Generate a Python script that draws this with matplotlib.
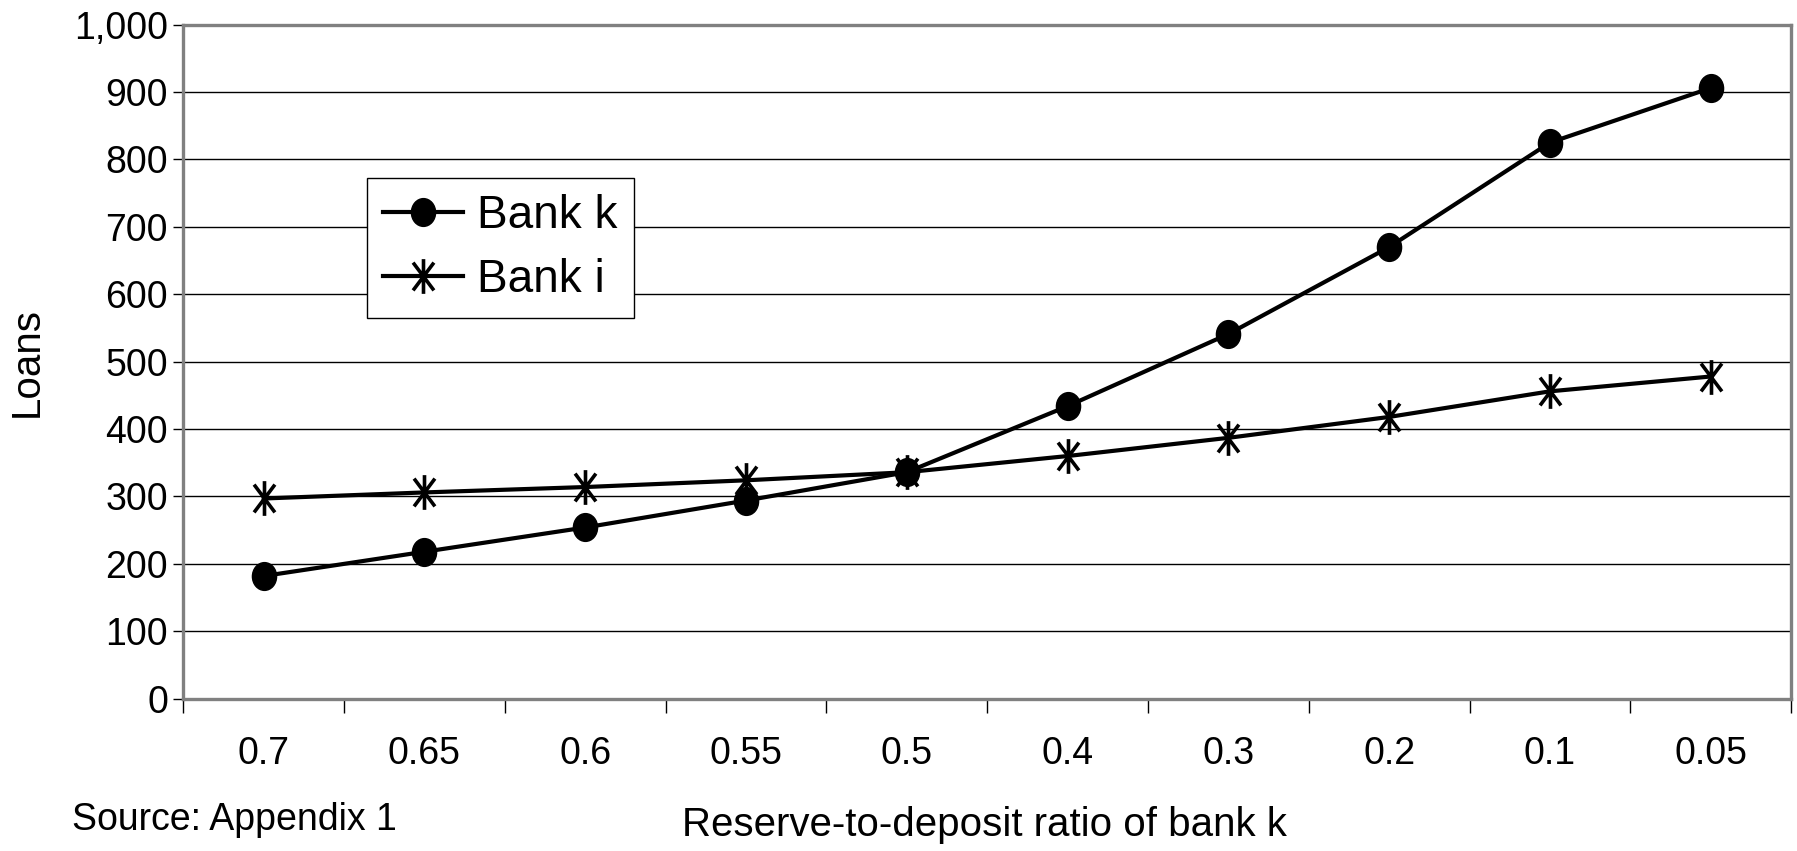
import matplotlib.pyplot as plt
from matplotlib.path import Path
from matplotlib.ticker import FuncFormatter, FixedLocator

plt.rcParams['font.family'] = ['Liberation Sans', 'DejaVu Sans']

# reserve-to-deposit ratio of bank k and resulting loan volumes
ratios = ['0.7', '0.65', '0.6', '0.55', '0.5', '0.4', '0.3', '0.2', '0.1', '0.05']
loans_k = [182, 218, 254, 294, 336, 434, 541, 670, 825, 906]
loans_i = [297, 306, 314, 324, 336, 360, 387, 418, 456, 478]

# six-armed asterisk, a bit taller than wide
star = Path([(0, -1), (0, 1), (-0.6, -0.8), (0.6, 0.8), (-0.6, 0.8), (0.6, -0.8)],
            [Path.MOVETO, Path.LINETO, Path.MOVETO, Path.LINETO, Path.MOVETO, Path.LINETO])
# slightly upright ellipse for the dots
circ = Path.unit_circle()
dot = Path(circ.vertices * [1.0, 1.15], circ.codes)

fig = plt.figure(figsize=(17.97, 8.51), dpi=100)
ax = fig.add_axes([0.102, 0.179, 0.8947, 0.792])

xs = [i + 0.5 for i in range(len(ratios))]
ax.plot(xs, loans_k, color='black', lw=3, marker=dot, ms=20, label='Bank k', zorder=3)
ax.plot(xs, loans_i, color='black', lw=3, marker=star, ms=25, mew=2.6, label='Bank i', zorder=3)

ax.set_xlim(0, len(ratios))
ax.set_ylim(0, 1000)
ax.set_yticks(range(0, 1001, 100))
ax.yaxis.set_major_formatter(FuncFormatter(lambda v, p: f'{int(v):,}'))
for y in range(100, 1000, 100):
    ax.axhline(y, color='black', lw=1, zorder=1)

ax.xaxis.set_major_locator(FixedLocator(xs))
ax.set_xticklabels(ratios)
ax.xaxis.set_minor_locator(FixedLocator(range(len(ratios) + 1)))
ax.tick_params(axis='x', which='major', length=0, pad=27, labelsize=27)
ax.tick_params(axis='x', which='minor', length=10, width=1, color='black')
ax.tick_params(axis='y', length=7, width=1, color='black', labelsize=27, pad=4)

for s in ax.spines.values():
    s.set_color('#808080')
    s.set_linewidth(2.4)

ax.set_ylabel('Loans', fontsize=29, labelpad=20)
fig.text(0.548, 0.03, 'Reserve-to-deposit ratio of bank k', ha='center', va='center', fontsize=29)
fig.text(0.04, 0.036, 'Source: Appendix 1', ha='left', va='center', fontsize=27)

leg = ax.legend(loc='upper left', bbox_to_anchor=(0.1144, 0.773), borderaxespad=0,
                fontsize=33, fancybox=False, edgecolor='black', framealpha=1,
                handlelength=1.75, handletextpad=0.3, labelspacing=0.45, borderpad=0.35)
leg.get_frame().set_linewidth(1)

fig.savefig('out.png', dpi=100)
